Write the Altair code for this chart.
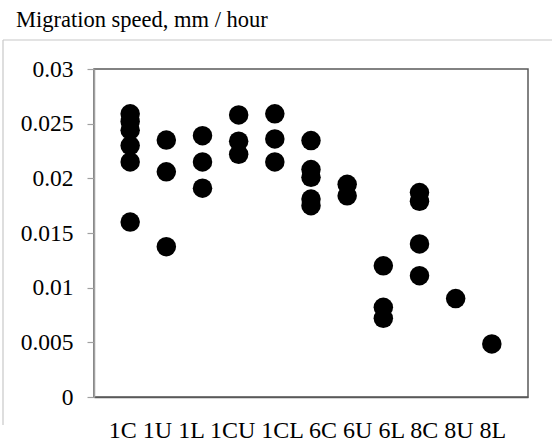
import altair as alt
import pandas as pd

categories = ["1C", "1U", "1L", "1CU", "1CL", "6C", "6U", "6L", "8C", "8U", "8L"]
v_1C = [0.0259, 0.0252, 0.0244, 0.0230, 0.0215, 0.0160]
v_1U = [0.0235, 0.0206, 0.01375]
v_1L = [0.0239, 0.0215, 0.0191]
v_1CU = [0.0258, 0.0234, 0.0222]
v_1CL = [0.0259, 0.0236, 0.0215]
v_6C = [0.02345, 0.0208, 0.0201, 0.0181, 0.0175]
v_6U = [0.01945, 0.0184]
v_6L = [0.0120, 0.0082, 0.0072]
v_8C = [0.0187, 0.0179, 0.0140, 0.0111]
v_8U = [0.0090]
v_8L = [0.00485]
y_ticks = [0, 0.005, 0.01, 0.015, 0.02, 0.025, 0.03]
title_text = "Migration speed, mm / hour"

series = [v_1C, v_1U, v_1L, v_1CU, v_1CL, v_6C, v_6U, v_6L, v_8C, v_8U, v_8L]
rows = []
for cat, vals in zip(categories, series):
    for v in vals:
        rows.append({"group": cat, "speed": v})
df = pd.DataFrame(rows)

FONT = "Times New Roman, Liberation Serif, DejaVu Serif, serif"

points = alt.Chart(df).mark_circle(size=380, color="#000000", opacity=1).encode(
    x=alt.X("group:N", sort=categories,
            scale=alt.Scale(type="point", padding=1),
            axis=alt.Axis(labels=False, ticks=False, domain=True, domainColor="#595959",
                          domainWidth=1.5, title=" ".join(categories), titleFont=FONT,
                          titleFontSize=24, titleFontWeight="normal", titleColor="#000000",
                          titlePadding=21, titleX=213)),
    y=alt.Y("speed:Q", scale=alt.Scale(domain=[0, 0.03], nice=False),
            axis=alt.Axis(values=y_ticks, format=".3~f", grid=False, title=None,
                          labelFont=FONT, labelFontSize=23.5, labelColor="#000000",
                          tickSize=7, tickColor="#a0a0a0", tickWidth=1.2,
                          domainColor="#a0a0a0", domainWidth=1.5, labelPadding=14)),
)

frame_df = pd.DataFrame({"a": [0]})
top_line = alt.Chart(frame_df).mark_rule(color="#c8c8c8", strokeWidth=1.2).encode(
    x=alt.value(-91), x2=alt.value(470), y=alt.value(-29))
left_line = alt.Chart(frame_df).mark_rule(color="#c8c8c8", strokeWidth=1.2).encode(
    x=alt.value(-91), y=alt.value(-29), y2=alt.value(356))
title = alt.Chart(pd.DataFrame({"t": [title_text]})).mark_text(
    align="left", baseline="alphabetic", font=FONT, fontSize=22.5, color="#000000"
).encode(text="t:N", x=alt.value(-78), y=alt.value(-42))

chart = alt.layer(top_line, left_line, title, points).properties(
    width=434, height=328,
    autosize=alt.AutoSizeParams(type="none"),
    padding={"left": 94, "top": 69, "right": 24, "bottom": 46},
).configure_view(stroke="#595959", strokeWidth=1.5)

chart.save("out.html", embed_options={"renderer": "svg", "actions": False})
